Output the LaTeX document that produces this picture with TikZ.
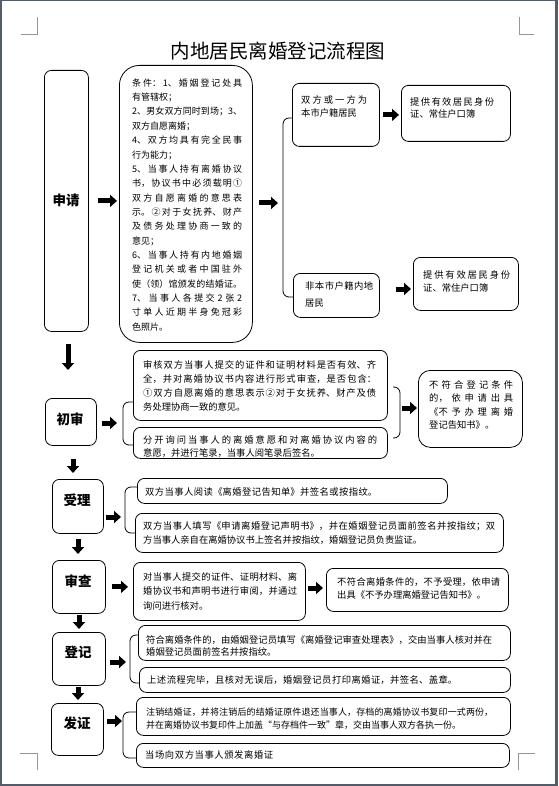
\documentclass[tikz,border=0pt]{standalone}
\usepackage{fontspec}
\setmainfont{Noto Sans CJK SC}
\usetikzlibrary{arrows.meta}
\XeTeXlinebreaklocale "zh"
\XeTeXlinebreakskip=0pt plus 3pt minus 0.4pt
\definecolor{pageframe}{RGB}{84,92,104}
\definecolor{cropgrey}{RGB}{150,150,150}
\tikzset{
  box/.style={draw=black, line width=0.8pt, rounded corners=7pt, anchor=north west, inner sep=0pt},
  lbl/.style={font=\fontsize{13.5}{14}\selectfont\bfseries, inner sep=0pt},
  txt/.style n args={2}{font=\fontsize{#1}{#2}\selectfont, anchor=base west, inner sep=0pt, align=justify},
  blk/.style={line width=5pt, -{Triangle[width=12pt,length=7pt]}},
  br/.style={draw=black, line width=0.8pt, rounded corners=6pt},
  cropmark/.style={draw=cropgrey, line width=0.6pt}
}
\begin{document}
\begin{tikzpicture}[x=1pt,y=-1pt]
\fill[pageframe] (0,0) rectangle (558,786);
\fill[white] (2,1) rectangle (555,784);
\useasboundingbox (0,0) rectangle (558,786);
% crop marks
\draw[cropmark] (21,34.5) -- (37,34.5) -- (37,17);
\draw[cropmark] (519,17) -- (519,34.5) -- (534,34.5);
\draw[cropmark] (20,753) -- (37,753) -- (37,770);
\draw[cropmark] (518,770) -- (518,753) -- (535,753);
% title
\node[font=\fontsize{19.5}{20}\selectfont, inner sep=0pt] (title) at (278,51.5) {内地居民离婚登记流程图};
% left column
\node[box, minimum width=44pt, minimum height=261pt] (sq) at (44,70) {};
\node[box, minimum width=51pt, minimum height=47pt] (cs) at (45,398) {};
\node[box, minimum width=51pt, minimum height=54pt] (sl) at (52,479) {};
\node[box, minimum width=53pt, minimum height=53pt] (sc) at (52,560) {};
\node[box, minimum width=53pt, minimum height=53pt] (dj) at (52,632) {};
\node[box, minimum width=52pt, minimum height=52pt] (fz) at (51,703) {};
\node[lbl] (lsq) at (66,200) {申请};
\node[lbl] (lcs) at (70,419) {初审};
\node[lbl] (lsl) at (77,500) {受理};
\node[lbl] (lsc) at (78,581) {审查};
\node[lbl] (ldj) at (78,652) {登记};
\node[lbl] (lfz) at (77,723) {发证};
% boxes
\node[box, rounded corners=20pt, minimum width=133pt, minimum height=277pt] (cond) at (119,65) {};
\node[box, minimum width=87pt, minimum height=63pt] (b1) at (292,83) {};
\node[box, minimum width=109pt, minimum height=56pt] (b2) at (401,85) {};
\node[box, minimum width=86pt, minimum height=44pt] (b3) at (293,273) {};
\node[box, minimum width=105pt, minimum height=53pt] (b4) at (413,257) {};
\node[box, minimum width=254pt, minimum height=70pt] (A) at (133,350) {};
\node[box, minimum width=254pt, minimum height=31pt] (B) at (133,427) {};
\node[box, rounded corners=12pt, minimum width=104pt, minimum height=77pt] (N) at (418,370) {};
\node[box, minimum width=310pt, minimum height=25pt] (C) at (137,478) {};
\node[box, minimum width=368pt, minimum height=39pt] (D) at (135,513) {};
\node[box, minimum width=172pt, minimum height=58pt] (E) at (133,562) {};
\node[box, minimum width=182pt, minimum height=43pt] (F) at (326,568) {};
\node[box, minimum width=372pt, minimum height=35pt] (G) at (138,625) {};
\node[box, minimum width=371pt, minimum height=25pt] (H) at (139,667) {};
\node[box, minimum width=374pt, minimum height=38pt] (I) at (136,697) {};
\node[box, minimum width=373pt, minimum height=24pt] (J) at (136,743) {};
% texts
\node[txt={9.0}{14.35}, text width=110pt] (tcond) at (132,86.3) {条件：1、婚姻登记处具\linebreak 有管辖权；\\2、男女双方同时到场；3、\linebreak 双方自愿离婚；\\4、双方均具有完全民事\linebreak 行为能力；\\5、当事人持有离婚协议\linebreak 书，协议书中必须载明①\linebreak 双方自愿离婚的意思表\linebreak 示。②对于女抚养、财产\linebreak 及债务处理协商一致的\linebreak 意见；\\6、当事人持有内地婚姻\linebreak 登记机关或者中国驻外\linebreak 使（领）馆颁发的结婚证。\linebreak 7、当事人各提交 2 张 2\linebreak 寸单人近期半身免冠彩\linebreak 色照片。};
\node[txt={9.3}{13}, text width=66pt] (tb1) at (301,103.3) {双方或一方为\linebreak 本市户籍居民};
\node[txt={9.3}{12}, text width=84pt] (tb2) at (410,105.3) {提供有效居民身份\linebreak 证、常住户口簿};
\node[txt={9.3}{17}, text width=68pt] (tb3) at (305,289.3) {非本市户籍内地\linebreak 居民};
\node[txt={9.3}{13}, text width=87pt] (tb4) at (423,278.3) {提供有效居民身份\linebreak 证、常住户口簿};
\node[txt={9.3}{14}, text width=233pt] (tA) at (143,368.3) {审核双方当事人提交的证件和证明材料是否有效、齐\linebreak 全，并对离婚协议书内容进行形式审查，是否包含：\linebreak ①双方自愿离婚的意思表示②对于女抚养、财产及债\linebreak 务处理协商一致的意见。};
\node[txt={9.3}{13}, text width=234pt] (tB) at (143,443.3) {分开询问当事人的离婚意愿和对离婚协议内容的\linebreak 意愿，并进行笔录，当事人阅笔录后签名。};
\node[txt={9.3}{13.5}, text width=84pt] (tN) at (429,388.3) {不符合登记条件\linebreak 的，依申请出具\linebreak 《不予办理离婚\linebreak 登记告知书》。};
\node[txt={9.3}{14}, text width=232pt] (tC) at (145,495.3) {双方当事人阅读《离婚登记告知单》并签名或按指纹。\linebreak\mbox{}};
\node[txt={9.3}{14}, text width=352pt] (tD) at (143,529.3) {双方当事人填写《申请离婚登记声明书》，并在婚姻登记员面前签名并按指纹；双\linebreak 方当事人亲自在离婚协议书上签名并按指纹，婚姻登记员负责监证。};
\node[txt={9.3}{14.5}, text width=154pt] (tE) at (143,580.3) {对当事人提交的证件、证明材料、离\linebreak 婚协议书和声明书进行审阅，并通过\linebreak 询问进行核对。};
\node[txt={9.3}{13}, text width=163pt] (tF) at (337,585.3) {不符合离婚条件的，不予受理，依申请\linebreak 出具《不予办理离婚登记告知书》。};
\node[txt={9.3}{12.5}, text width=346pt] (tG) at (146,643.3) {符合离婚条件的，由婚姻登记员填写《离婚登记审查处理表》，交由当事人核对并在\linebreak 婚姻登记员面前签名并按指纹。};
\node[txt={9.3}{14}, text width=310pt] (tH) at (147,683.3) {上述流程完毕，且核对无误后，婚姻登记员打印离婚证，并签名、盖章。\linebreak\mbox{}};
\node[txt={9.0}{13}, text width=347pt] (tI) at (146,715.2) {注销结婚证，并将注销后的结婚证原件退还当事人，存档的离婚协议书复印一式两份，\linebreak 并在离婚协议书复印件上加盖“与存档件一致”章，交由当事人双方各执一份。};
\node[txt={9.3}{14}, text width=128pt] (tJ) at (145,758.3) {当场向双方当事人颁发离婚证\linebreak\mbox{}};
% bracket coordinates
\coordinate (r1t) at (283,118); \coordinate (r1b) at (283,297); \coordinate (r1m) at (283,203);
\coordinate (l1t) at (123,402); \coordinate (l1b) at (123,445); \coordinate (l1m) at (123,423);
\coordinate (r2t) at (393,387); \coordinate (r2a) at (400,387); \coordinate (r2c) at (400,438); \coordinate (r2b) at (393,438); \coordinate (r2m) at (400,408);
\coordinate (l2t) at (125,487); \coordinate (l2b) at (125,533); \coordinate (l2m) at (125,517);
\coordinate (l3t) at (130,635); \coordinate (l3b) at (130,683); \coordinate (l3m) at (130,662);
\coordinate (l4t) at (123,712); \coordinate (l4b) at (123,758); \coordinate (l4m) at (123,721);
% brackets
\draw[br] (r1t -| b1.west) -- (r1t) -- (r1b) -- (r1b -| b3.west);
\draw[br] (l1t -| A.west) -- (l1t) -- (l1b) -- (l1b -| B.west);
\draw[br] (r2t) -- (r2a) -- (r2c) -- (r2b);
\draw[br] (l2t -| C.west) -- (l2t) -- (l2b) -- (l2b -| D.west);
\draw[br] (l3t -| G.west) -- (l3t) -- (l3b) -- (l3b -| H.west);
\draw[br] (l4t -| I.west) -- (l4t) -- (l4b) -- (l4b -| J.west);
% horizontal arrows
\draw[blk, shorten <=9pt, shorten >=2pt] (sq.east) -- (sq.east -| cond.west);
\draw[blk, shorten <=6pt, shorten >=5pt] (r1m -| cond.east) -- (r1m);
\draw[blk, shorten <=3pt, shorten >=2pt] (b1.east) -- (b1.east -| b2.west);
\coordinate (m3) at (0,289);
\draw[blk, shorten <=16pt, shorten >=2pt] (m3 -| b3.east) -- (m3 -| b4.west);
\draw[blk, shorten <=5pt, shorten >=6pt] (l1m -| cs.east) -- (l1m);
\draw[blk, shorten <=2pt, shorten >=1pt] (r2m) -- (r2m -| N.west);
\draw[blk, shorten <=2pt, shorten >=4pt] (l2m -| sl.east) -- (l2m);
\draw[blk, shorten <=6pt, shorten >=5pt] (sc.east) -- (sc.east -| E.west);
\coordinate (m5) at (0,588);
\draw[blk, shorten <=2pt, shorten >=3pt] (m5 -| E.east) -- (m5 -| F.west);
\draw[blk, shorten <=4pt, shorten >=4pt] (l3m -| dj.east) -- (l3m);
\draw[blk, shorten <=3pt, shorten >=1pt] (l4m -| fz.east) -- (l4m);
% vertical arrows
\coordinate (v1) at (68,0); \coordinate (v2) at (73,0); \coordinate (v3) at (78,0); \coordinate (v4) at (79,0);
\draw[blk, shorten <=12pt, shorten >=28pt] (sq.south -| v1) -- (cs.north -| v1);
\draw[blk, shorten <=13pt, shorten >=6pt] (cs.south -| v2) -- (sl.north -| v2);
\draw[blk, shorten <=5pt, shorten >=6pt] (sl.south -| v3) -- (sc.north -| v3);
\draw[blk, shorten <=1pt, shorten >=3pt] (sc.south -| v4) -- (dj.north -| v4);
\draw[blk, shorten <=1pt, shorten >=3pt] (dj.south -| v3) -- (fz.north -| v3);
\end{tikzpicture}
\end{document}
